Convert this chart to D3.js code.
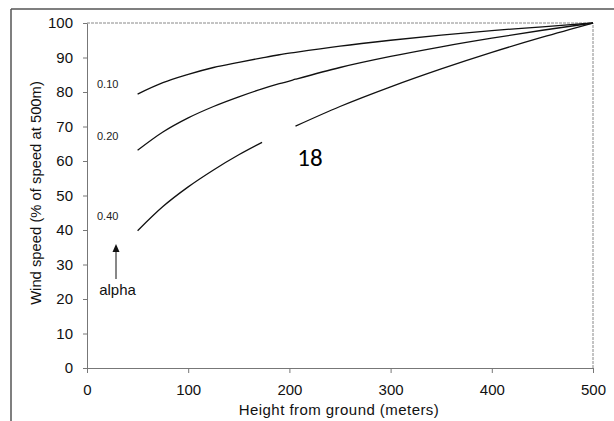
<!DOCTYPE html>
<html lang="en">
<head>
  <meta charset="UTF-8">
  <title>Wind speed profile</title>
  <script src="https://d3js.org/d3.v7.min.js"></script>
  <style>
    body { margin: 0; background: #fff; }
    text { font-family: "Liberation Sans", Arial, sans-serif; }
  </style>
</head>
<body>
  <script>
    var heights = [50, 75, 100, 125, 150, 173, 190, 206, 250, 300, 350, 400, 450, 500];
    // wind speed as % of speed at 500 m, one list per alpha
    var alpha010 = [79.4, 82.7, 85.1, 87.1, 88.6, 89.9, 90.8, 91.5, 93.3, 95.0, 96.5, 97.8, 98.9, 100];
    var alpha020 = [63.1, 68.4, 72.5, 75.8, 78.6, 80.9, 82.4, 83.7, 87.1, 90.3, 93.1, 95.6, 97.9, 100];
    var alpha040 = [39.8, 46.8, 52.5, 57.4, 61.8, 65.4, null, 70.1, 75.8, 81.5, 86.7, 91.5, 95.9, 100];
    var alphaLabels = ["0.10", "0.20", "0.40"];
    var xTicks = [0, 100, 200, 300, 400, 500];
    var yTicks = [0, 10, 20, 30, 40, 50, 60, 70, 80, 90, 100];

    var width = 614, height = 421;
    var plotL = 87, plotR = 593, plotT = 23, plotB = 368;
    var labelDy = [-6, -10, -10.5];   // label baseline above curve start

    var svg = d3.select("body").append("svg")
      .attr("width", width)
      .attr("height", height);

    var x = d3.scaleLinear().domain([0, 500]).range([plotL, plotR]);
    var y = d3.scaleLinear().domain([0, 100]).range([plotB, plotT]);

    // outer frame (scanned page edges)
    svg.append("line").attr("x1", 11).attr("x2", 614).attr("y1", 9).attr("y2", 9)
      .attr("stroke", "#555").attr("stroke-width", 1.5);
    svg.append("line").attr("x1", 11).attr("x2", 11).attr("y1", 9).attr("y2", 421)
      .attr("stroke", "#555").attr("stroke-width", 1.5);

    // plot frame top & right, dotted
    svg.append("path")
      .attr("d", "M" + plotL + "," + plotT + "H" + plotR + "V" + plotB)
      .attr("fill", "none")
      .attr("stroke", "#888")
      .attr("stroke-dasharray", "3 1");

    var xAxis = svg.append("g")
      .attr("transform", "translate(0," + plotB + ")")
      .call(d3.axisBottom(x).tickValues(xTicks).tickSize(5).tickSizeOuter(0).tickPadding(11));
    var yAxis = svg.append("g")
      .attr("transform", "translate(" + plotL + ",0)")
      .call(d3.axisLeft(y).tickValues(yTicks).tickSize(4).tickSizeOuter(0).tickPadding(10));

    [xAxis, yAxis].forEach(function(a) {
      a.select(".domain").attr("stroke", "#777");
      a.selectAll(".tick line").attr("stroke", "#777");
      a.selectAll(".tick text")
        .attr("fill", "#111")
        .style("font-size", "15px")
        .style("font-family", "'Liberation Sans', Arial, sans-serif");
    });

    svg.append("text")
      .attr("x", 339)
      .attr("y", 415)
      .attr("text-anchor", "middle")
      .style("font-size", "15px")
      .style("letter-spacing", "0.45px")
      .attr("fill", "#111")
      .text("Height from ground (meters)");

    svg.append("text")
      .attr("transform", "translate(41,193) rotate(-90)")
      .attr("text-anchor", "middle")
      .style("font-size", "14.8px")
      .attr("fill", "#111")
      .text("Wind speed (% of speed at 500m)");

    var series = [alpha010, alpha020, alpha040];
    var line = d3.line()
      .defined(function(d) { return d[1] != null; })
      .x(function(d) { return x(d[0]); })
      .y(function(d) { return y(d[1]); })
      .curve(d3.curveMonotoneX);

    svg.selectAll(".curve")
      .data(series)
      .enter()
      .append("path")
      .attr("class", "curve")
      .attr("d", function(vals) {
        return line(heights.map(function(h, i) { return [h, vals[i]]; }));
      })
      .attr("fill", "none")
      .attr("stroke", "#111")
      .attr("stroke-width", 1.3);

    // alpha labels next to the curve starts
    svg.selectAll(".alab")
      .data(alphaLabels)
      .enter()
      .append("text")
      .attr("class", "alab")
      .attr("x", 97)
      .attr("y", function(d, i) { return y(series[i][0]) + labelDy[i]; })
      .style("font-size", "11px")
      .attr("fill", "#222")
      .text(function(d) { return d; });

    // arrow pointing up to the labels
    svg.append("line")
      .attr("x1", 116).attr("x2", 116)
      .attr("y1", 279).attr("y2", 250)
      .attr("stroke", "#111").attr("stroke-width", 1);
    svg.append("path")
      .attr("d", "M116,244 L112.5,252 L119.5,252 Z")
      .attr("fill", "#111");
    svg.append("text")
      .attr("x", 117.5).attr("y", 295)
      .attr("text-anchor", "middle")
      .style("font-size", "15px")
      .attr("fill", "#111")
      .text("alpha");

    // page number stamp
    svg.append("text")
      .attr("x", 310).attr("y", 166)
      .attr("text-anchor", "middle")
      .style("font-size", "25px")
      .style("font-family", "Carlito, 'Open Sans', sans-serif")
      .attr("fill", "#000")
      .text("18");
  </script>
</body>
</html>
